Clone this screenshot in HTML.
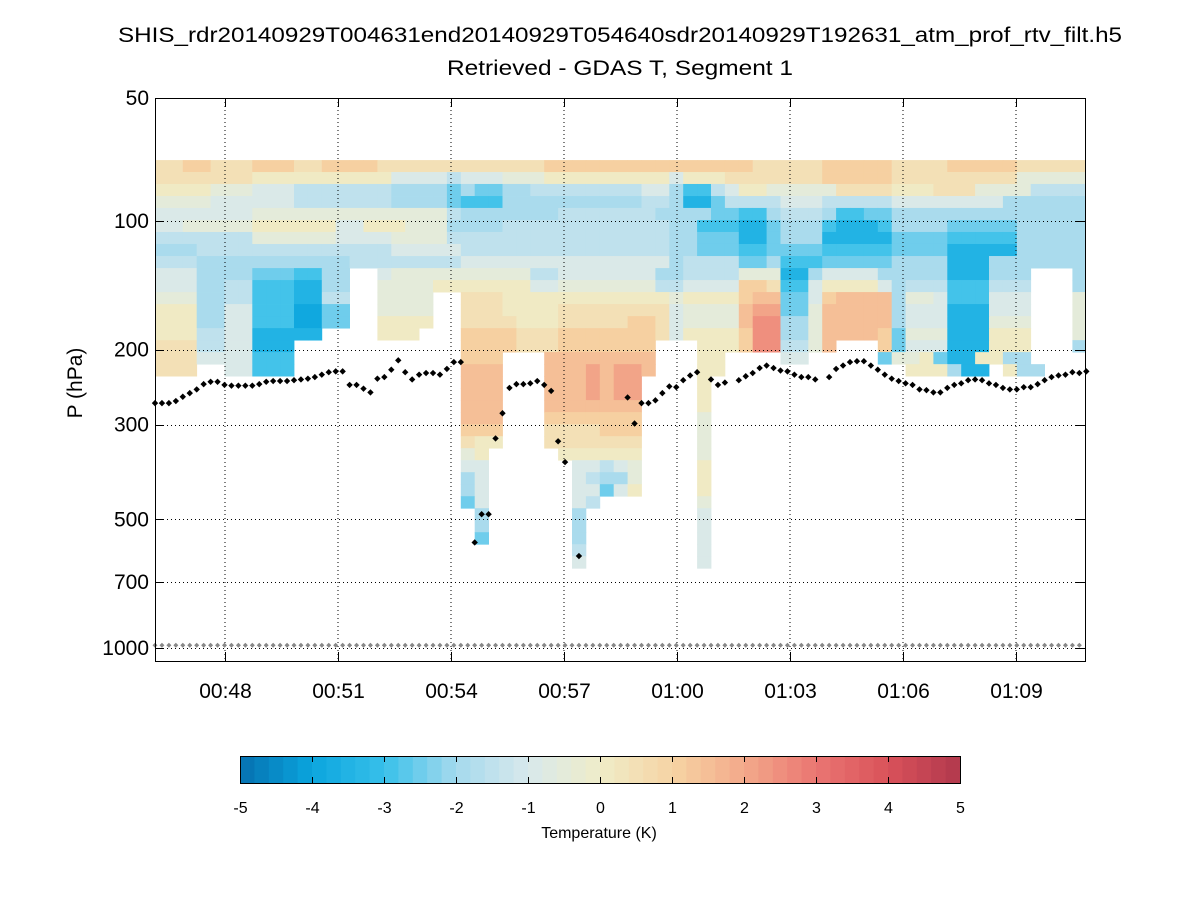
<!DOCTYPE html>
<html><head><meta charset="utf-8">
<style>
html,body{margin:0;padding:0;background:#fff;}
svg{display:block;font-family:"Liberation Sans",Arial,sans-serif;}
</style></head>
<body>
<svg id="chart" width="1200" height="900" viewBox="0 0 1200 900" xmlns="http://www.w3.org/2000/svg">
  <rect x="0" y="0" width="1200" height="900" fill="#fff"/>
  <text x="620" y="42" font-size="21" text-anchor="middle" textLength="1004" lengthAdjust="spacingAndGlyphs">SHIS_rdr20140929T004631end20140929T054640sdr20140929T192631_atm_prof_rtv_filt.h5</text>
  <text x="620" y="75" font-size="21" text-anchor="middle" textLength="346" lengthAdjust="spacingAndGlyphs">Retrieved - GDAS T, Segment 1</text>
  <g id="cells"></g>
  <g id="grid"></g>
  <g id="dots"></g>
  <g id="axes"></g>
  <text transform="translate(82,383) rotate(-90)" font-size="21" text-anchor="middle">P (hPa)</text>
  <g id="cbar"></g>
  <text x="599" y="838" font-size="16" text-anchor="middle">Temperature (K)</text>
</svg>
<script>
// ---- data ----
const levels = [72.0,76.8,81.9,87.4,93.2,99.5,106.1,113.2,120.8,128.9,137.5,146.7,156.5,167.0,178.2,190.1,202.8,216.4,230.8,246.3,262.7,280.3,299.1,319.1,340.4,363.2,387.5,413.4,441.1,470.6,502.1,535.6,571.5,609.7,650.5];
const codes = "ABCDEFGHIJKLMNOPQRSTU"; // A=-5 ... U=+5 in 0.5 K steps, '.'=missing
const gridRows = [
"LLMMLLLMMMLLMMMMLLLLLL"+"LLLLLLMMMMMMMMMMMMMMML"+"LLLLMMMMMLLLLMMMMMLLLLL",
"LLLLLLLKKKKKKKKKKIIIIH"+"IIIJJJKKKKKKKKKIKKKLLL"+"LLLLMMMMMLLLLLLLLLJJJJJ",
"KKKKJJJIIIHHHHHHHGGGGF"+"GFFGGHHHHHHHHIIGEEHIKK"+"JJJJJLLLLKKKLLLJJJJHHHH",
"JJJJIIIIIIHHHHHHHGGGGF"+"EEEGGGGGGGGGGHHGDDFHHH"+"HIIIHHHHHIIIIIIIIGGGGGG",
"IIIIIIIJJJJJJJJJJJJJJH"+"GGGGGGGHHHHHHHGGGGFFEE"+"GHHHGEEFFGGGGGGGGGGGGGG",
"IIJJJJJKKKKKKIIKKKJJJG"+"GGGHHHHHHHHHHHHGGEEEDD"+"FGGGEDDDEGGGGFFFFFGGGGG",
"HHHHHHHJJJJJJIIIIJJJJH"+"HHHHHHHHHHHHHHHGGFFFDD"+"FGGGDDDDDFFFFEEEEEGGGGG",
"GGGHHHHHHHHHHHHHHIIIII"+"HHHHHHHHHHHHHHHGGFFFEE"+"FFFFEEEEEFFFFDDDDDGGGGG",
"HHHGGGGGGGGGGGHHHHHHHH"+"IIIIIIIIIIIIIIIGHHHHFF"+"GEEEFFFFFGGGGDDDGGGGGGG",
"IIIGGGGFFFEEGG..IJJJJJ"+"JJJJJHHIIIIIIIGGHHHHJJ"+"JDDGIIIIGGGGGDDDGGG...G",
"IIIGGHHEEEDDGG..JJJJKK"+"KKKKKIIJJJJJJJHHIIIIMM"+"LEEIKKKKIGHHHEEEHHH...G",
"JJJGGHHEEEDDHH..JJJJ.."+"LLLKKKKKKKKKKKKJKKKKMN"+"NFFIMNNNNGJJIEEEIII...J",
"KKKGGIIEEECCFF..JJJJ.."+"LLLKKKKLLLLLLLLIJJJJNO"+"OFFJNNNNNGIIIDDDIII...J",
"KKKGGIIEEECCFF..KKKK.."+"LLLLKKKLLLLLMMLIJJJJNP"+"PGGJNNNNNGIIIDDDJJJ...J",
"KKKHHIIDDDDD....KKK..."+"MMMMLLLMMMMMMMLIKKKKMP"+"PGGJNNNNMFJJJDDDKKK...J",
"LLLHHIIDDD............"+"MMMMLLLMMMMMMM...KKKMP"+"PHHJN...MFIIIDDDKKK...G",
"LLLIIIIEEE............"+"MMM...NNNNNNNN...KK..."+".II.....FJJKFDDKKGG...",
"LLL..IIEEE............"+"NNN...NNNONOON...KK..."+"..........KKKGDD.KGG...",
"......................"+"NNN...NNNONOO....K...."+".......................",
"......................"+"NNN...NNNONOO....K...."+".......................",
"......................"+"NNN...NNNNNNN....K...."+".......................",
"......................"+"NNN...MMMMMMM....J...."+".......................",
"......................"+"MMM...LLLLMMM....J...."+".......................",
"......................"+"LKK...LLLLLLL....J...."+".......................",
"......................"+"JK.....KKKKKK....J...."+".......................",
"......................"+"II......IIHIJ....K...."+".......................",
"......................"+"GI......IHGGJ....K...."+".......................",
"......................"+"GI......IIFIK....K...."+".......................",
"......................"+"FI......IH.......J...."+".......................",
"......................"+".G......G........I...."+".......................",
"......................"+".G......G........I...."+".......................",
"......................"+".F......G........I...."+".......................",
"......................"+"........H........I...."+".......................",
"......................"+"........I........I...."+"......................."
];
const dotPressure = [267,267,267,264,258,253,248,241,238,238,242,243,243,243,243,241,238,237,237,237,236,235,234,232,229,226,225,225,242,242,247,252,234,232,223,212,226,235,229,227,227,229,222,214,214,
NaN,566,486,486,323,282,246,241,241,240,237,242,250,328,367,NaN,609,NaN,NaN,NaN,NaN,NaN,NaN,259,298,267,267,263,253,244,245,236,230,226,NaN,235,242,239,NaN,236,231,227,221,
218,221,224,225,229,232,232,235,NaN,232,222,218,214,213,213,218,223,229,234,237,240,242,248,249,252,252,246,242,240,236,235,236,240,242,246,248,248,245,245,241,236,232,230,229,226,227,225];
const surfacePressure = 985;
const pTicks = [50,100,200,300,500,700,1000];
const pTickLabels = ["50","100","200","300","500","700","1000"];
const tTicks = [48*60,51*60,54*60,57*60,60*60,63*60,66*60,69*60];
const tTickLabels = ["00:48","00:51","00:54","00:57","01:00","01:03","01:06","01:09"];
const cbTicks = [-5,-4,-3,-2,-1,0,1,2,3,4,5];
const cbAnchorVals = [-5,-4,-3,-2,-1,0,1,2,3,4,5];
const cbAnchorCols = ["#0571b0","#0ba5de","#38c0ea","#a5d9ed","#d8e9ec","#efecc8","#f6d4a4","#f3a98a","#ea7672","#d9525a","#b1384d"];

// ---- layout ----
const X0=155,X1=1085,Y0=98,Y1=661;
const t0 = 46*60+8.5;
const pxPerSec = 113/180;
const dt = 6.95/pxPerSec;
function xs(t){return X0+(t-t0)*pxPerSec;}
function ys(p){return Math.max(Y0,648-(3-Math.log10(p))*427);}
const NS="http://www.w3.org/2000/svg";
function mk(tag,attrs,parent){const e=document.createElementNS(NS,tag);for(const k in attrs)e.setAttribute(k,attrs[k]);parent.appendChild(e);return e;}
function hex(h){return [parseInt(h.slice(1,3),16),parseInt(h.slice(3,5),16),parseInt(h.slice(5,7),16)];}
function cmap(v){
  v=Math.max(-5,Math.min(5,v));
  v=Math.min(4.9,Math.floor(v/0.2)*0.2)+0.1;
  let i=Math.min(9,Math.floor(v+5));
  const f=(v-cbAnchorVals[i]);
  const a=hex(cbAnchorCols[i]),b=hex(cbAnchorCols[i+1]);
  return "rgb("+a.map((c,k)=>Math.round(c+(b[k]-c)*f)).join(",")+")";
}

// heatmap
const cells=document.getElementById('cells');
gridRows.forEach((row,i)=>{
  const yt=ys(levels[i]), yb=ys(levels[i+1]);
  for(let j=0;j<row.length;j++){
    const ch=row[j]; if(ch==='.')continue;
    const v=codes.indexOf(ch)*0.5-5;
    const xa=xs(t0+2*j*dt), xb=Math.min(X1,xs(t0+(2*j+2)*dt));
    if(xa>=X1)continue;
    const r=mk('rect',{x:xa.toFixed(2),y:yt.toFixed(2),width:(xb-xa+0.4).toFixed(2),height:(yb-yt+0.4).toFixed(2),fill:cmap(v)},cells);
    
    
  }
});

// grid
const grid=document.getElementById('grid');
tTicks.forEach(t=>{const x=xs(t);
  const l=mk('line',{x1:x,y1:Y0,x2:x,y2:Y1,stroke:'#000','stroke-width':1,'stroke-dasharray':'1,3'},grid);
  
  });
pTicks.slice(1).forEach(p=>{const y=Math.round(ys(p))+0.5;
  const l=mk('line',{x1:X0,y1:y,x2:X1,y2:y,stroke:'#000','stroke-width':1,'stroke-dasharray':'1,3'},grid);
  
  });

// markers
const dots=document.getElementById('dots');
for(let k=0;k*dt*pxPerSec<=X1-X0+1;k++){
  const x=xs(t0+k*dt), y=ys(surfacePressure);
  const g=mk('path',{d:`M${x-2.5},${y}L${x},${y-2.5}L${x+2.5},${y}L${x},${y+2.5}Z`,fill:'#888'},dots);
  
  
}
dotPressure.forEach((p,k)=>{
  if(isNaN(p))return;
  const x=xs(t0+k*dt), y=ys(p);
  const d=mk('path',{d:`M${x-3.2},${y}L${x},${y-3.2}L${x+3.2},${y}L${x},${y+3.2}Z`,fill:'#000'},dots);
  
  
});

// axes
const axes=document.getElementById('axes');
mk('rect',{x:X0+0.5,y:Y0+0.5,width:X1-X0,height:Y1-Y0,fill:'none',stroke:'#000','stroke-width':1},axes);
pTicks.forEach((p,i)=>{const y=Math.round(ys(p))+0.5;
  mk('line',{x1:X0,y1:y,x2:X0+9,y2:y,stroke:'#000'},axes);
  mk('line',{x1:X1-9,y1:y,x2:X1,y2:y,stroke:'#000'},axes);
  const t=mk('text',{x:149,y:ys(p)+7,'font-size':21,'text-anchor':'end'},axes);
  t.textContent=pTickLabels[i];
  
  
});
tTicks.forEach((tt,i)=>{const x=Math.round(xs(tt))+0.5;
  mk('line',{x1:x,y1:Y1,x2:x,y2:Y1-9,stroke:'#000'},axes);
  mk('line',{x1:x,y1:Y0,x2:x,y2:Y0+9,stroke:'#000'},axes);
  const t=mk('text',{x:x,y:698,'font-size':21,'text-anchor':'middle'},axes);
  t.textContent=tTickLabels[i];
  
  
});

// colorbar
const cb=document.getElementById('cbar');
const CB0=240,CB1=960,CBY=756,CBH=27;
for(let s=0;s<50;s++){
  const v=-5+s*0.2+0.1;
  const r=mk('rect',{x:CB0+s*14.4,y:CBY,width:14.9,height:CBH,fill:cmap(v)},cb);
  
  
}
mk('rect',{x:CB0+0.5,y:CBY+0.5,width:CB1-CB0,height:CBH,fill:'none',stroke:'#000'},cb);
cbTicks.forEach(v=>{const x=Math.round(CB0+(v+5)*72)+0.5;
  mk('line',{x1:x,y1:CBY,x2:x,y2:CBY+6,stroke:'#000'},cb);
  mk('line',{x1:x,y1:CBY+CBH-6,x2:x,y2:CBY+CBH,stroke:'#000'},cb);
  const t=mk('text',{x:x,y:813,'font-size':16,'text-anchor':'middle'},cb);
  t.textContent=String(v);
  
  
});
</script>
</body></html>
